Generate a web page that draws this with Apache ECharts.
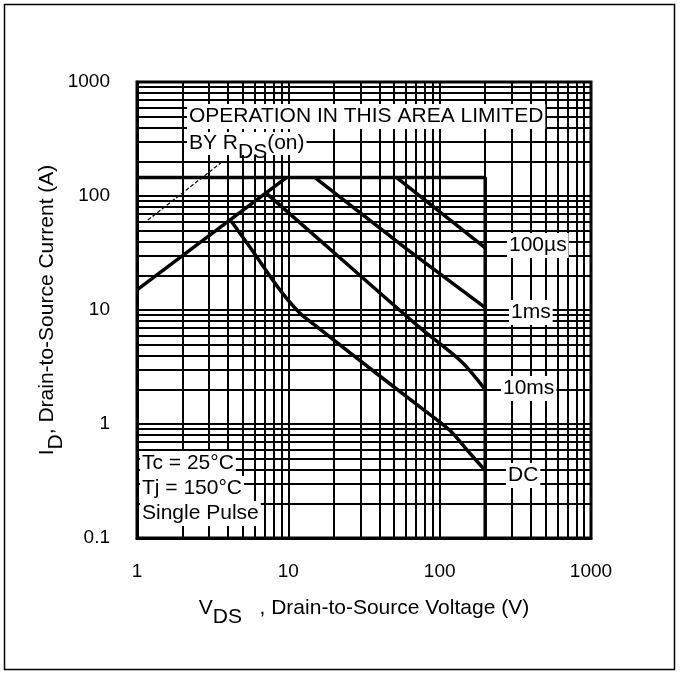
<!DOCTYPE html>
<html>
<head>
<meta charset="utf-8">
<script src="https://cdn.jsdelivr.net/npm/echarts@6/dist/echarts.min.js"></script>
<style>html,body{margin:0;padding:0;background:#fff;}#c{width:680px;height:675px;}</style>
</head>
<body>
<div id="c"></div>
<script>
// ---- data ----
const xGrid = [2,3,4,5,6,7,8,9,20,30,40,50,60,70,80,90,200,300,400,500,600,700,800,900];
const yGrid = [0.2,0.3,0.4,0.5,0.6,0.7,0.8,0.9,2,3,4,5,6,7,8,9,20,30,40,50,60,70,80,90,200,300,400,500,600,700,800,900];
const xTickLabels = ['1', '10', '100', '1000'];
const yTickLabels = ['0.1', '1', '10', '100', '1000'];
const limitX = [1, 200, 200];
const limitY = [145, 145, 0.1];
const rdsX = [1, 9.7];
const rdsY = [15, 145];
const leaderX = [1.18, 3.65];
const leaderY = [61.5, 199];
const us100X = [52, 200];
const us100Y = [145, 35];
const ms1X = [15, 61, 200];
const ms1Y = [145, 34, 10.5];
const ms10X = [7.2, 22, 74, 140, 200];
const ms10Y = [105, 28.6, 7.0, 3.5, 2.0];
const dcX = [4.2, 5.75, 8.8, 11.9, 15.5, 25.6, 74, 100, 122, 152, 200];
const dcY = [60, 33.6, 15, 9.4, 7.1, 4.2, 1.41, 1.04, 0.83, 0.59, 0.39];

const zip = (xs, ys) => xs.map((x, i) => [x, ys[i]]);
const FONT = '"Liberation Sans", Arial, sans-serif';

const chart = echarts.init(document.getElementById('c'), null, {renderer: 'canvas'});

const thick = {color: '#000', width: 3.5};
function curve(name, xs, ys, smooth) {
  return {
    name, type: 'line', data: zip(xs, ys), showSymbol: false, symbol: 'none',
    smooth: smooth || 0, lineStyle: thick, z: 5, silent: true
  };
}

const richSub = {
  m: {fontSize: 21, fontFamily: FONT, color: '#000', lineHeight: 22, verticalAlign: 'top'},
  s: {fontSize: 21, fontFamily: FONT, color: '#000', lineHeight: 22, verticalAlign: 'top', padding: [9, 0, 0, 0]}
};

function txt(text, left, top, extra) {
  return Object.assign({
    type: 'text', left, top, z: 100,
    style: {text, font: '21px ' + FONT, fill: '#000', backgroundColor: '#fff', padding: [2, 2, 2, 2]}
  }, extra || {});
}

function tickFmt(labels) {
  return function (v) {
    const e = Math.round(Math.log10(v));
    const idx = labels.findIndex(l => Math.round(Math.log10(parseFloat(l))) === e);
    return idx >= 0 ? labels[idx] : '';
  };
}

chart.setOption({
  animation: false,
  backgroundColor: '#fff',
  grid: {left: 137, right: 89, top: 82, bottom: 137, show: true, borderColor: '#000', borderWidth: 3, backgroundColor: 'transparent'},
  xAxis: {
    type: 'log', logBase: 10, min: 1, max: 1000,
    axisLine: {show: true, lineStyle: {color: '#000', width: 3}},
    axisTick: {show: false},
    splitLine: {show: true, lineStyle: {color: '#000', width: 2}},
    axisLabel: {color: '#000', fontSize: 19, fontFamily: FONT, margin: 24, formatter: tickFmt(xTickLabels)},
    name: '{m|V}{s|DS}{m|   , Drain-to-Source Voltage (V)}',
    nameLocation: 'middle', nameGap: 60, nameMoveOverlap: false,
    nameTextStyle: {rich: richSub}
  },
  yAxis: {
    type: 'log', logBase: 10, min: 0.1, max: 1000,
    axisLine: {show: true, lineStyle: {color: '#000', width: 3}},
    axisTick: {show: false},
    splitLine: {show: true, lineStyle: {color: '#000', width: 2}},
    axisLabel: {color: '#000', fontSize: 19, fontFamily: FONT, margin: 27, formatter: tickFmt(yTickLabels)},
    name: '{m|I}{s|D}{m|, Drain-to-Source Current (A)}',
    nameLocation: 'middle', nameGap: 78, nameMoveOverlap: false,
    nameTextStyle: {rich: richSub}
  },
  series: [
    {
      name: 'grid', type: 'line', data: [[1, 0.1]], symbol: 'none', lineStyle: {width: 0}, z: 1, silent: true,
      markLine: {
        silent: true, symbol: ['none', 'none'], label: {show: false},
        lineStyle: {color: '#000', width: 2, type: 'solid'},
        data: xGrid.map(v => ({xAxis: v})).concat(yGrid.map(v => ({yAxis: v})))
      }
    },
    curve('limit', limitX, limitY),
    curve('rds', rdsX, rdsY),
    {name: 'leader', type: 'line', data: zip(leaderX, leaderY), symbol: 'none', z: 5, silent: true,
     lineStyle: {color: '#111', width: 1.3, type: [4, 2]}},
    curve('100us', us100X, us100Y),
    curve('1ms', ms1X, ms1Y),
    curve('10ms', ms10X, ms10Y, 0.3),
    curve('DC', dcX, dcY, 0.3)
  ],
  graphic: [
    {type: 'rect', z: 100, shape: {x: 4.5, y: 4.5, width: 670, height: 665}, style: {fill: 'none', stroke: '#000', lineWidth: 1.5}},
    txt('OPERATION IN THIS AREA LIMITED', 187, 104),
    {type: 'text', left: 187, top: 132, z: 100,
     style: {text: '{m|BY R}{s|DS}{m|(on)}', rich: richSub, backgroundColor: '#fff', padding: [1, 2, 0, 2]}},
    txt('100\u00b5s', 507, 233),
    txt('1ms', 509, 300),
    txt('10ms', 501, 376),
    txt('DC', 506, 463),
    txt('Tc = 25\u00b0C', 140, 451),
    txt('Tj = 150\u00b0C', 140, 476),
    txt('Single Pulse', 140, 501)
  ]
});
</script>
</body>
</html>
